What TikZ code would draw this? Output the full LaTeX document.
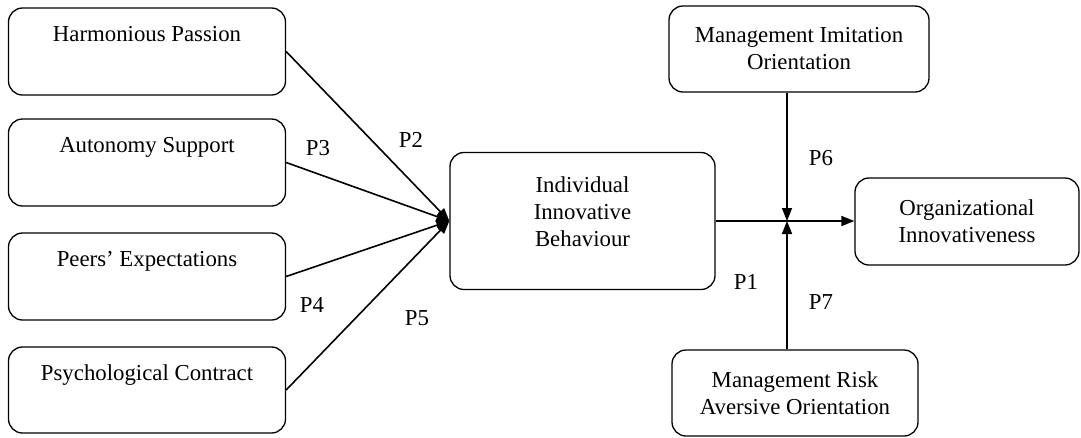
\documentclass[tikz,border=0pt]{standalone}
\usepackage{fontspec}
\setmainfont{Liberation Serif}
\usetikzlibrary{arrows.meta}
\begin{document}
\begin{tikzpicture}[x=1pt,y=-1pt,
  box/.style={draw,line width=1.3pt,rounded corners=14pt,inner sep=0pt},
  lbox/.style={box,minimum width=277pt},
  mtext/.style={align=center,font=\fontsize{22.8}{27}\selectfont},
  toplabel/.style={label={[anchor=base,yshift=-34.5pt,font=\fontsize{22.8}{27}\selectfont]north:#1}},
  conn/.style={line width=1.6pt,-{Triangle[length=13pt,width=10pt]}},
  plab/.style={font=\fontsize{22.8}{27}\selectfont,inner sep=0pt}]
\useasboundingbox (0,0) rectangle (1081,437);
% left boxes
\node[lbox,minimum height=87pt,toplabel={Harmonious Passion}] (hp) at (147,51.5) {};
\node[lbox,minimum height=87pt,toplabel={Autonomy Support}] (as) at (147,162.5) {};
\node[lbox,minimum height=87pt,toplabel={Peers’ Expectations}] (pe) at (147,276.5) {};
\node[lbox,minimum height=86pt,toplabel={Psychological Contract}] (pc) at (147,390) {};
% centre
\node[box,mtext,minimum width=265pt,minimum height=137pt,text depth=18pt] (ib) at (582.5,221) {Individual\\Innovative\\Behaviour};
\node[box,mtext,minimum width=224pt,minimum height=87pt] (oi) at (967,221.5) {Organizational\\Innovativeness};
\node[box,mtext,minimum width=260pt,minimum height=86pt] (mi) at (799,49) {Management Imitation\\Orientation};
\node[box,mtext,minimum width=246pt,minimum height=86pt] (mr) at (795,393) {Management Risk\\Aversive Orientation};
\coordinate (j) at (787,221);
% connectors
\draw[conn] (hp.east) -- (ib.west);
\draw[conn] (as.east) -- (ib.west);
\draw[conn] (pe.east) -- (ib.west);
\draw[conn] (pc.east) -- (ib.west);
\draw[conn] (ib.east) -- (ib.east -| oi.west);
\draw[conn] (j |- mi.south) -- (j);
\draw[conn] (j |- mr.north) -- (j);
% labels
\node[plab] (p2) at (411,140) {P2};
\node[plab] (p3) at (318,148) {P3};
\node[plab] (p4) at (312,305) {P4};
\node[plab] (p5) at (417,318) {P5};
\node[plab] (p6) at (821,158) {P6};
\node[plab] (p1) at (746,282) {P1};
\node[plab] (p7) at (821,302) {P7};
\end{tikzpicture}
\end{document}
